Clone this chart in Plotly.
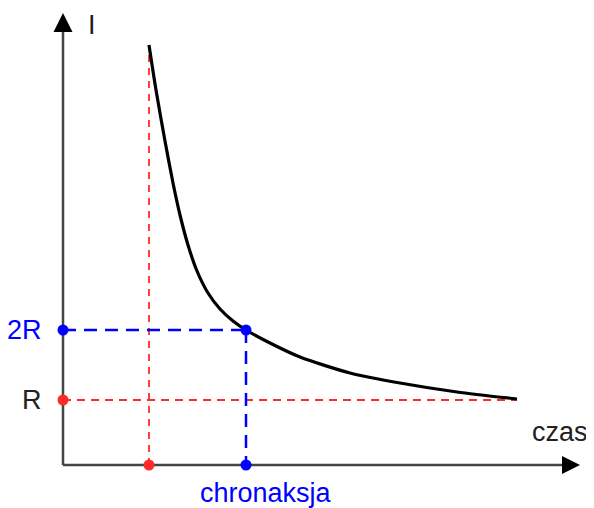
import plotly.graph_objects as go

# Data (time vs stimulus intensity, arbitrary units)
curve_t = [86, 93, 102, 110, 117, 125, 134, 145, 157, 170, 183, 205, 237, 287, 337, 394, 454]
curve_i = [420, 375, 324, 282, 250, 220, 194, 172, 156, 144, 135, 123, 108, 92, 82, 73, 66]
rheobase = 65          # R
double_rheobase = 135  # 2R
t_util = 86            # start of the curve (red)
chronaxie = 183        # chronaksja (blue)
t_end = 454
ytick_labels = ["R", "2R"]
x_label = "czas"
y_label = "I"
chron_label = "chronaksja"

AXIS_COLOR = "#454545"
RED = "#ff2a2a"
BLUE = "#0000ff"
FONT = "Liberation Sans, Arial, sans-serif"

fig = go.Figure()

# axes lines
fig.add_trace(go.Scatter(x=[0, 0], y=[0, 436], mode="lines",
                         line=dict(color=AXIS_COLOR, width=2.5), hoverinfo="skip"))
fig.add_trace(go.Scatter(x=[0, 502], y=[0, 0], mode="lines",
                         line=dict(color=AXIS_COLOR, width=2.5), hoverinfo="skip"))

# red dashed guides
fig.add_trace(go.Scatter(x=[t_util, t_util], y=[0, curve_i[0]], mode="lines",
                         line=dict(color=RED, width=1.8, dash="7px,6px"), hoverinfo="skip"))
fig.add_trace(go.Scatter(x=[0, t_end], y=[rheobase, rheobase], mode="lines",
                         line=dict(color=RED, width=1.8, dash="8px,6px"), hoverinfo="skip"))

# blue dashed guides
fig.add_trace(go.Scatter(x=[0, chronaxie], y=[double_rheobase, double_rheobase], mode="lines",
                         line=dict(color=BLUE, width=2.5, dash="13px,8px"), hoverinfo="skip"))
fig.add_trace(go.Scatter(x=[chronaxie, chronaxie], y=[double_rheobase, 0], mode="lines",
                         line=dict(color=BLUE, width=2.5, dash="13px,8px"), hoverinfo="skip"))

# curve
fig.add_trace(go.Scatter(x=curve_t, y=curve_i, mode="lines",
                         line=dict(color="black", width=3.2, shape="spline", smoothing=0.7),
                         hoverinfo="skip"))

# dots
fig.add_trace(go.Scatter(x=[0, t_util], y=[rheobase, 0], mode="markers",
                         marker=dict(color=RED, size=11), hoverinfo="skip"))
fig.add_trace(go.Scatter(x=[0, chronaxie, chronaxie], y=[double_rheobase, 0, double_rheobase],
                         mode="markers", marker=dict(color=BLUE, size=11), hoverinfo="skip"))

# arrowheads
fig.add_shape(type="path", path="M -9.5 433 L 9.5 433 L 0 452 Z",
              fillcolor="black", line=dict(width=0), xref="x", yref="y")
fig.add_shape(type="path", path="M 499 9 L 499 -9 L 517 0 Z",
              fillcolor="black", line=dict(width=0), xref="x", yref="y")

# labels
fig.add_annotation(x=-19, y=rheobase, text=ytick_labels[0], showarrow=False,
                   xanchor="right", yanchor="middle", font=dict(family=FONT, size=27, color="#222222"))
fig.add_annotation(x=-19, y=double_rheobase, text=ytick_labels[1], showarrow=False,
                   xanchor="right", yanchor="middle", font=dict(family=FONT, size=27, color=BLUE))
fig.add_annotation(x=29, y=440, text=y_label, showarrow=False,
                   xanchor="center", yanchor="middle", font=dict(family=FONT, size=27, color="#222222"))
fig.add_annotation(x=497, y=33, text=x_label, showarrow=False,
                   xanchor="center", yanchor="middle", font=dict(family=FONT, size=27, color="#222222"))
fig.add_annotation(x=203, y=-28, text=chron_label, showarrow=False,
                   xanchor="center", yanchor="middle", font=dict(family=FONT, size=27, color=BLUE))

# page body has an 8px margin: figure is 586x500 placed at (8, 8)
fig.update_layout(
    width=586, height=500,
    margin=dict(l=0, r=0, t=0, b=0),
    paper_bgcolor="white", plot_bgcolor="white",
    showlegend=False,
    xaxis=dict(range=[-55, 531], visible=False, fixedrange=True),
    yaxis=dict(range=[-43, 457], visible=False, fixedrange=True),
)

fig.write_html("out.html")
